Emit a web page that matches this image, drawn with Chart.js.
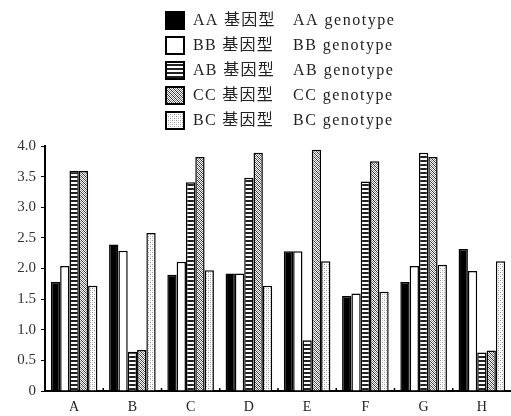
<!DOCTYPE html>
<html>
<head>
<meta charset="utf-8">
<script src="https://cdn.jsdelivr.net/npm/chart.js@4"></script>
<style>
  html, body { margin: 0; padding: 0; background: #fff; }
  #wrap { width: 511px; height: 416px; }
</style>
</head>
<body>
<div id="wrap"><canvas id="chart" width="511" height="416"></canvas></div>
<script>
const categories = ['A', 'B', 'C', 'D', 'E', 'F', 'G', 'H'];
const seriesNamesCn = ['AA 基因型', 'BB 基因型', 'AB 基因型', 'CC 基因型', 'BC 基因型'];
const seriesNamesEn = ['AA genotype', 'BB genotype', 'AB genotype', 'CC genotype', 'BC genotype'];
const aaValues = [1.78, 2.39, 1.90, 1.92, 2.28, 1.55, 1.78, 2.32];
const bbValues = [2.04, 2.29, 2.11, 1.92, 2.28, 1.59, 2.04, 1.96];
const abValues = [3.59, 0.64, 3.41, 3.48, 0.83, 3.42, 3.89, 0.63];
const ccValues = [3.59, 0.67, 3.82, 3.89, 3.94, 3.75, 3.82, 0.66];
const bcValues = [1.72, 2.58, 1.97, 1.72, 2.12, 1.62, 2.06, 2.12];
const yTicks = [0, 0.5, 1.0, 1.5, 2.0, 2.5, 3.0, 3.5, 4.0];

const serif = '"Liberation Serif", "DejaVu Serif", "Noto Sans CJK SC", serif';

function makePattern(w, h, draw) {
  const c = document.createElement('canvas');
  c.width = w; c.height = h;
  const g = c.getContext('2d');
  g.fillStyle = '#fff';
  g.fillRect(0, 0, w, h);
  draw(g);
  return g.createPattern(c, 'repeat');
}

const fillAA = '#000';
const fillBB = '#fff';
const fillAB = makePattern(4, 4, g => {
  g.fillStyle = '#222';
  g.fillRect(0, 0, 4, 2);
});
const fillCC = makePattern(4, 4, g => {
  g.fillStyle = '#333';
  for (let i = 0; i < 4; i++) g.fillRect((i + 1) % 4, i, 1, 1);
  g.fillStyle = '#888';
  for (let i = 0; i < 4; i++) g.fillRect((i + 3) % 4, i, 1, 1);
});
const fillBC = makePattern(4, 4, g => {
  g.fillStyle = '#999';
  g.fillRect(0, 0, 1, 1);
  g.fillRect(2, 2, 1, 1);
  g.fillStyle = '#ccc';
  g.fillRect(2, 0, 1, 1);
  g.fillRect(0, 2, 1, 1);
});
const fills = [fillAA, fillBB, fillAB, fillCC, fillBC];
const seriesValues = [aaValues, bbValues, abValues, ccValues, bcValues];

// two-column legend drawn above the chart area
const legendPlugin = {
  id: 'twoColLegend',
  afterDraw(chart) {
    const ctx = chart.ctx;
    ctx.save();
    seriesNamesCn.forEach((name, i) => {
      const y = 20 + i * 25;
      ctx.fillStyle = fills[i];
      ctx.fillRect(166, y - 8, 18, 17);
      ctx.strokeStyle = '#000';
      ctx.lineWidth = 2;
      ctx.strokeRect(166, y - 8, 18, 17);
      ctx.fillStyle = '#222';
      ctx.textBaseline = 'middle';
      ctx.font = '16px ' + serif;
      ctx.letterSpacing = '1.3px';
      ctx.fillText(name, 193, y + 1);
      ctx.letterSpacing = '1.5px';
      ctx.fillText(seriesNamesEn[i], 293, y + 1);
    });
    ctx.restore();
  }
};

// small tick marks between groups, pointing up from the x axis
const gapTicks = {
  id: 'gapTicks',
  afterDatasetsDraw(chart) {
    const x = chart.scales.x;
    const ctx = chart.ctx;
    const bottom = chart.chartArea.bottom;
    ctx.save();
    ctx.strokeStyle = '#000';
    ctx.lineWidth = 1.5;
    for (let i = 1; i < categories.length; i++) {
      const px = (x.getPixelForValue(i - 1) + x.getPixelForValue(i)) / 2;
      ctx.beginPath();
      ctx.moveTo(px, bottom);
      ctx.lineTo(px, bottom - 3);
      ctx.stroke();
    }
    ctx.restore();
  }
};

new Chart(document.getElementById('chart'), {
  type: 'bar',
  data: {
    labels: categories,
    datasets: seriesValues.map((vals, i) => ({
      label: seriesNamesEn[i],
      data: vals,
      backgroundColor: fills[i],
      borderColor: '#000',
      borderWidth: 1.5,
      borderSkipped: 'bottom',
      categoryPercentage: 0.8,
      barPercentage: 1.0
    }))
  },
  options: {
    responsive: false,
    animation: false,
    layout: { padding: { top: 146, right: 0, left: 0, bottom: 0 } },
    plugins: {
      legend: { display: false },
      tooltip: { enabled: false }
    },
    scales: {
      x: {
        grid: { display: false },
        border: { display: true, color: '#000', width: 2 },
        ticks: { color: '#222', font: { family: serif, size: 14 }, padding: 0 },
        afterFit(scale) { scale.height = 25; }
      },
      y: {
        min: 0,
        max: 4,
        afterBuildTicks(scale) { scale.ticks = yTicks.map(v => ({ value: v })); },
        grid: { drawOnChartArea: false, drawTicks: true, tickLength: 4, color: '#000' },
        border: { display: true, color: '#000', width: 2 },
        ticks: {
          color: '#333',
          font: { family: serif, size: 15 },
          padding: 5,
          callback: v => v === 0 ? '0' : v.toFixed(1)
        },
        afterFit(scale) { scale.width = 45; }
      }
    }
  },
  plugins: [legendPlugin, gapTicks]
});
</script>
</body>
</html>
